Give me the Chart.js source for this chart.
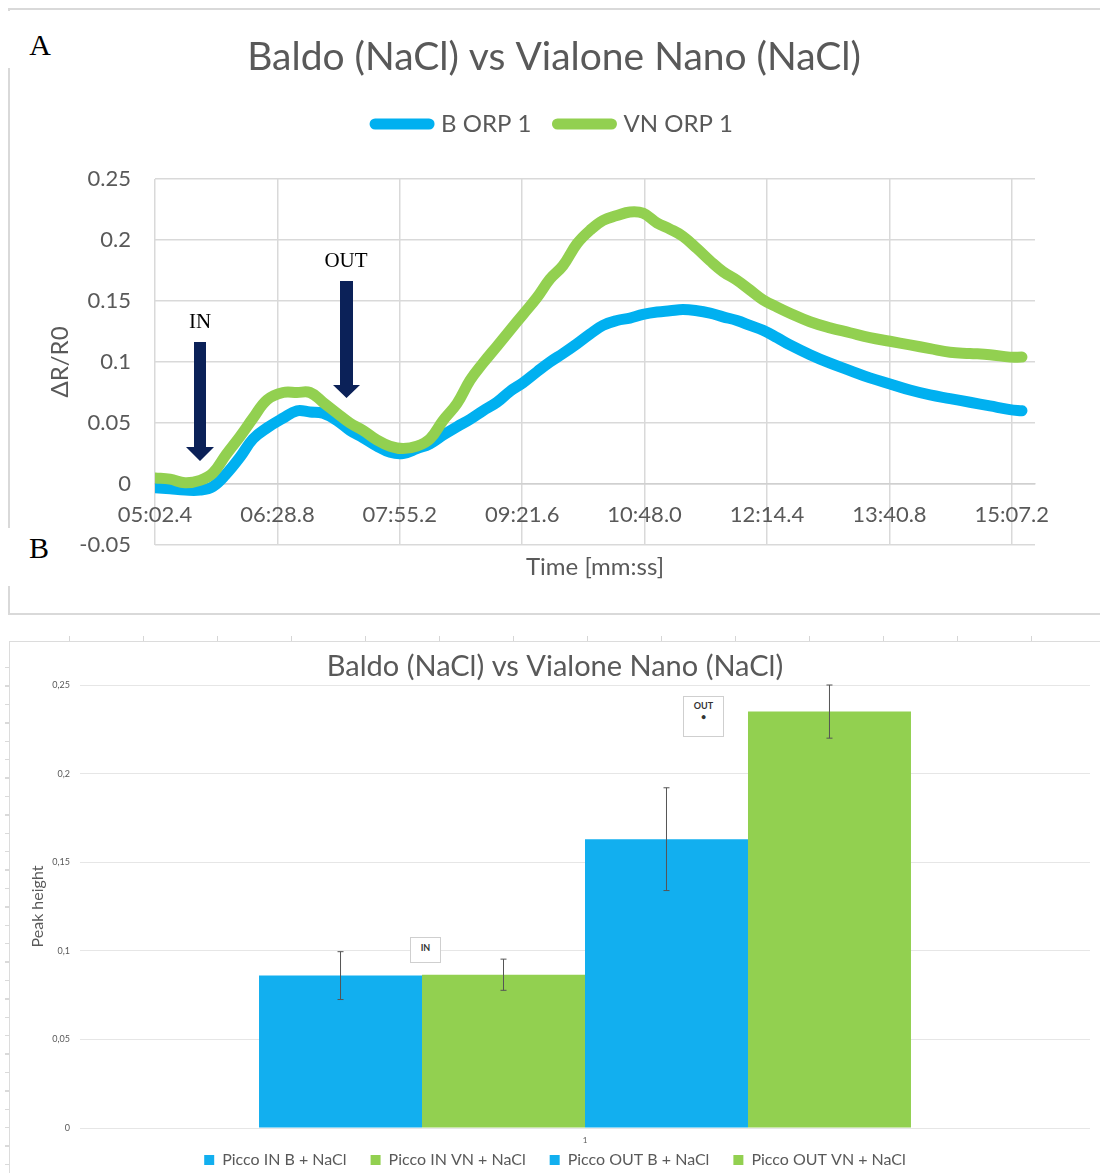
<!DOCTYPE html>
<html lang="it">
<head>
<meta charset="utf-8">
<title>Baldo (NaCl) vs Vialone Nano (NaCl)</title>
<script src="https://cdn.jsdelivr.net/npm/chart.js@4.4.1/dist/chart.umd.min.js"></script>
<style>
  html, body { margin: 0; padding: 0; background: #fff; }
  body { position: relative; width: 1100px; height: 1173px; overflow: hidden; }
  canvas { position: absolute; }
  #graficoA { left: 8px; top: 8px; }
  #graficoB { left: 10px; top: 642px; }
  .borda { position: absolute; box-sizing: border-box; }
  #bordaA { left: 8px; top: 8px; width: 1100px; height: 607px; border: 2px solid #d9d9d9; border-right: none; }
  #bordaB { left: 9px; top: 641px; width: 1100px; height: 540px; border-top: 1px solid #dcdcdc; border-left: 1px solid #dcdcdc; }
  #reguaTopo { left: 10px; top: 636px; width: 1090px; height: 5px;
    background: repeating-linear-gradient(to right, transparent 0 59px, #d6d6d6 59px 60px, transparent 60px 74px); }
  #reguaLado { left: 5px; top: 650px; width: 4px; height: 523px;
    background: repeating-linear-gradient(to bottom, transparent 0 17px, #dadada 17px 18.4px); }
  .tampa { position: absolute; background: #fff; z-index: 2; }
  #tampaA { left: 4px; top: 11px; width: 62px; height: 57px; }
  #tampaB { left: 4px; top: 528px; width: 58px; height: 58px; }
  .serif { position: absolute; z-index: 3; transform: translate(-50%, -50%); line-height: 1; white-space: nowrap;
    font-family: 'Liberation Serif', 'DejaVu Serif', serif; color: #000; }
  #setas { position: absolute; left: 0; top: 0; z-index: 3; }
  .caixa { position: absolute; z-index: 3; background: #fff; border: 1px solid #cfcfcf; box-sizing: border-box;
    font: bold 9px Lato, sans-serif; color: #333; text-align: center; line-height: 11px; }
  #caixaIN { left: 410px; top: 937px; width: 31px; height: 26px; padding-top: 4px; }
  #caixaOUT { left: 683px; top: 696px; width: 41px; height: 41px; padding-top: 3px; }
</style>
</head>
<body>
<div class="borda" id="bordaA"></div>
<div class="borda" id="bordaB"></div>
<div class="borda" id="reguaTopo"></div>
<div class="borda" id="reguaLado"></div>

<canvas id="graficoA" width="1092" height="607"></canvas>
<canvas id="graficoB" width="1090" height="540"></canvas>

<div class="tampa" id="tampaA"></div>
<div class="tampa" id="tampaB"></div>
<div class="serif" style="left:40px;top:45px;font-size:30px;">A</div>
<div class="serif" style="left:39px;top:548px;font-size:30px;">B</div>
<div class="serif" style="left:200px;top:321px;font-size:21px;">IN</div>
<div class="serif" style="left:346px;top:260px;font-size:21px;">OUT</div>
<svg id="setas" width="1100" height="620">
  <polygon points="194,342 206,342 206,447 214,447 200,461 186,447 194,447" fill="#0b2158"/>
  <polygon points="340,281 353,281 353,385 360,385 346.5,398 333,385 340,385" fill="#0b2158"/>
</svg>
<div class="caixa" id="caixaIN">IN</div>
<div class="caixa" id="caixaOUT">OUT<br>•</div>

<script>
// Grafico A: tempo in secondi, valori dR/R0
const tempoSeg = [302.4, 313.0, 323.6, 334.2, 343.3, 352.5, 362.4, 371.6, 381.5, 392.8,
  402.6, 411.8, 421.0, 430.9, 440.0, 449.2, 459.1, 468.3, 477.5, 487.3,
  496.5, 505.7, 515.6, 524.8, 533.9, 543.8, 553.0, 562.2, 572.1, 581.2,
  590.4, 600.3, 609.5, 618.6, 628.5, 637.7, 646.9, 656.8, 665.9, 675.1,
  685.0, 694.2, 703.4, 713.2, 722.4, 731.6, 741.5, 750.6, 764.8, 778.9,
  793.0, 807.1, 821.2, 835.3, 849.5, 863.6, 877.7, 891.8, 905.9, 914.4];
const bOrp1 = [-0.003, -0.004, -0.005, -0.005, -0.002, 0.008, 0.022, 0.037, 0.046, 0.054,
  0.060, 0.059, 0.058, 0.052, 0.044, 0.038, 0.031, 0.026, 0.025, 0.029,
  0.033, 0.040, 0.047, 0.053, 0.060, 0.067, 0.076, 0.083, 0.092, 0.100,
  0.107, 0.115, 0.123, 0.130, 0.134, 0.136, 0.139, 0.141, 0.142, 0.143,
  0.142, 0.140, 0.137, 0.134, 0.130, 0.126, 0.120, 0.114, 0.106, 0.099,
  0.093, 0.087, 0.082, 0.077, 0.073, 0.070, 0.067, 0.064, 0.061, 0.060];
const vnOrp1 = [0.005, 0.004, 0.001, 0.003, 0.009, 0.024, 0.039, 0.054, 0.069, 0.075,
  0.075, 0.075, 0.067, 0.058, 0.050, 0.044, 0.036, 0.031, 0.029, 0.031,
  0.037, 0.052, 0.066, 0.085, 0.099, 0.113, 0.126, 0.139, 0.153, 0.168,
  0.179, 0.197, 0.208, 0.216, 0.220, 0.223, 0.222, 0.214, 0.209, 0.203,
  0.193, 0.183, 0.174, 0.167, 0.159, 0.151, 0.145, 0.140, 0.133, 0.128,
  0.124, 0.120, 0.117, 0.114, 0.111, 0.108, 0.107, 0.106, 0.104, 0.104];
const tempoTicks = [302.4, 388.8, 475.2, 561.6, 648.0, 734.4, 820.8, 907.2];
const tempoRotuli = ['05:02.4', '06:28.8', '07:55.2', '09:21.6', '10:48.0', '12:14.4', '13:40.8', '15:07.2'];

// Grafico B: altezza dei picchi con errore
const categorieB = ['1'];
const serieB = ['Picco IN B + NaCl', 'Picco IN VN + NaCl', 'Picco OUT B + NaCl', 'Picco OUT VN + NaCl'];
const picchi = [0.086, 0.0865, 0.163, 0.235];
const erroriPicchi = [0.0135, 0.0088, 0.029, 0.015];
const coloriB = ['#12AFEF', '#92D050', '#12AFEF', '#92D050'];

Chart.defaults.font.family = "Lato, 'Noto Sans', sans-serif";
Chart.defaults.color = '#595959';

const grigio = '#595959';

// scala vuota usata solo come spaziatura
const spazio = (pos, size) => ({
  type: 'linear', position: pos, display: true,
  ticks: { display: false }, grid: { display: false, drawTicks: false }, border: { display: false },
  afterFit: (s) => { if (pos === 'top' || pos === 'bottom') s.height = size; else s.width = size; }
});

const configA = {
  type: 'line',
  data: {
    datasets: [
      { label: 'B ORP 1', data: tempoSeg.map((t, i) => ({ x: t, y: bOrp1[i] })),
        borderColor: '#00B0F0', backgroundColor: '#00B0F0', order: 2 },
      { label: 'VN ORP 1', data: tempoSeg.map((t, i) => ({ x: t, y: vnOrp1[i] })),
        borderColor: '#92D050', backgroundColor: '#92D050', order: 1 }
    ]
  },
  options: {
    responsive: false,
    animation: false,
    events: [],
    datasets: { line: { borderWidth: 11, pointRadius: 0, tension: 0.4, borderCapStyle: 'round', borderJoinStyle: 'round' } },
    layout: { padding: { left: 0, right: 0, top: 0, bottom: 29.6 } },
    plugins: {
      title: { display: true, text: 'Baldo (NaCl) vs Vialone Nano (NaCl)', color: grigio,
        font: { size: 39, weight: 'normal' }, padding: { top: 25.6, bottom: 5.6 } },
      legend: { reverse: true,
        labels: { usePointStyle: true, pointStyle: 'line', pointStyleWidth: 54, padding: 26,
          color: grigio, font: { size: 24 },
          generateLabels: (chart) => Chart.defaults.plugins.legend.labels.generateLabels(chart)
            .map(l => ({ ...l, lineCap: 'round', lineWidth: 11 })) } },
      tooltip: { enabled: false }
    },
    scales: {
      x: {
        type: 'linear', min: 302.4, max: 923.6, position: { y: 0 },
        afterBuildTicks: (s) => { s.ticks = tempoTicks.map(v => ({ value: v })); },
        ticks: { callback: (v, i) => tempoRotuli[i], autoSkip: false, maxRotation: 0,
          padding: 18, color: grigio, font: { size: 22 } },
        grid: { color: '#d9d9d9', lineWidth: 1.5, drawTicks: false },
        border: { color: '#d0d0d0', width: 1.5 }
      },
      y: {
        min: -0.05, max: 0.25,
        afterFit: (s) => { s.width = 147; },
        ticks: { stepSize: 0.05, callback: v => String(Math.round(v * 100) / 100),
          padding: 24, color: grigio, font: { size: 22 } },
        grid: { color: '#d9d9d9', lineWidth: 1.5, drawTicks: false },
        border: { display: false },
        title: { display: true, text: 'ΔR/R0', color: grigio, font: { size: 24 }, padding: { top: 37.6, bottom: 0 } }
      },
      xTop: spazio('top', 33),
      yRight: spazio('right', 65),
      xBottom: {
        type: 'linear', position: 'bottom', display: true,
        ticks: { display: false }, grid: { display: false, drawTicks: false }, border: { display: false },
        title: { display: true, text: 'Time [mm:ss]', color: grigio, font: { size: 24 }, padding: { top: 7.6, bottom: 4 } }
      }
    }
  }
};

// barre di errore disegnate con la scala y
const barreErrore = {
  id: 'barreErrore',
  afterDatasetsDraw(chart) {
    const { ctx } = chart;
    const y = chart.scales.y;
    ctx.save();
    ctx.strokeStyle = '#555';
    ctx.lineWidth = 1;
    chart.data.datasets.forEach((ds, i) => {
      const bar = chart.getDatasetMeta(i).data[0];
      const top = y.getPixelForValue(picchi[i] + erroriPicchi[i]);
      const bot = y.getPixelForValue(picchi[i] - erroriPicchi[i]);
      ctx.beginPath();
      ctx.moveTo(bar.x, top); ctx.lineTo(bar.x, bot);
      ctx.moveTo(bar.x - 3, top); ctx.lineTo(bar.x + 3, top);
      ctx.moveTo(bar.x - 3, bot); ctx.lineTo(bar.x + 3, bot);
      ctx.stroke();
    });
    ctx.restore();
  }
};

const configB = {
  type: 'bar',
  data: {
    labels: categorieB,
    datasets: serieB.map((nome, i) => ({
      label: nome, data: [picchi[i]], backgroundColor: coloriB[i], borderWidth: 0,
      categoryPercentage: 0.6455, barPercentage: 1
    }))
  },
  options: {
    responsive: false,
    animation: false,
    events: [],
    layout: { padding: { left: 0, right: 0, top: 0, bottom: 4 } },
    plugins: {
      title: { display: true, text: 'Baldo (NaCl) vs Vialone Nano (NaCl)', color: grigio,
        font: { size: 29, weight: 'normal' }, padding: { top: 7.6, bottom: 0.6 } },
      legend: { position: 'bottom',
        labels: { boxWidth: 10, boxHeight: 10, padding: 24, color: grigio, font: { size: 16 } } },
      tooltip: { enabled: false }
    },
    scales: {
      x: {
        position: { y: 0 },
        grid: { display: false, drawTicks: false }, border: { display: false },
        ticks: { padding: 8, color: grigio, font: { size: 8 } }
      },
      y: {
        min: 0, max: 0.25,
        afterFit: (s) => { s.width = 70; },
        ticks: { stepSize: 0.05, callback: v => String(Math.round(v * 100) / 100).replace('.', ','),
          padding: 10, color: grigio, font: { size: 9 } },
        grid: { color: '#e6e6e6', lineWidth: 1, drawTicks: false },
        border: { display: false },
        title: { display: true, text: 'Peak height', color: grigio, font: { size: 16 }, padding: { top: 18.4, bottom: 0 } }
      },
      yRight: spazio('right', 10)
    }
  },
  plugins: [barreErrore]
};

const ctxA = document.getElementById('graficoA');
const ctxB = document.getElementById('graficoB');

if (ctxA) {
  new Chart(ctxA, configA);
}
if (ctxB) {
  new Chart(ctxB, configB);
}
</script>
</body>
</html>
